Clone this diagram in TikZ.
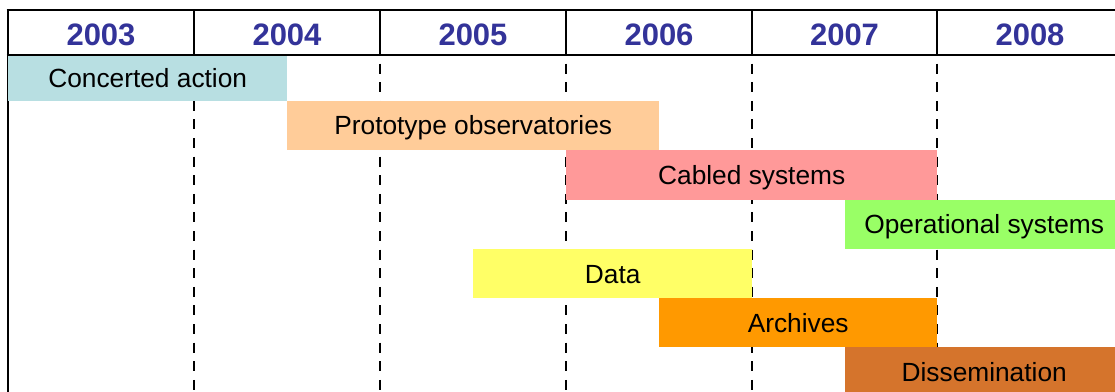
\documentclass[tikz,border=0pt]{standalone}
\usepackage{fontspec}
\setmainfont{Liberation Sans}
\definecolor{yearblue}{HTML}{333399}
\definecolor{cconc}{HTML}{B8DFE2}
\definecolor{cproto}{HTML}{FFCC99}
\definecolor{ccabled}{HTML}{FF9999}
\definecolor{coper}{HTML}{99FF66}
\definecolor{cdata}{HTML}{FFFF66}
\definecolor{carch}{HTML}{FF9900}
\definecolor{cdiss}{HTML}{D5742C}
\begin{document}
\begin{tikzpicture}[x=1pt,y=-1pt,
  frameline/.style={line width=2.8pt,black},
  sepline/.style={line width=2.6pt,black},
  gridline/.style={line width=2.6pt,black,dash pattern=on 10pt off 8.6pt,dash phase=10pt},
  yearlabel/.style={font=\fontsize{31}{31}\selectfont\bfseries,text=yearblue,inner sep=0pt,text height=22pt,text depth=0pt},
  bar/.style={anchor=north west,inner sep=0pt,draw=none,font=\fontsize{26.3}{26.3}\selectfont,text height=18.8pt,text depth=0pt,align=center}
]
\useasboundingbox (0,0) rectangle (1115,391);
% grid lines
\foreach \x in {194,380,566,752,937}{
  \draw[sepline] (\x,10) -- (\x,55);
  \draw[gridline] (\x,55) -- (\x,395);
}
\draw[frameline] (8,10) -- (8,395);
\draw[frameline] (6.6,10) -- (1125,10);
\draw[frameline] (6.6,55) -- (1125,55);
% years
\node[yearlabel] (y2003) at (101,34) {2003};
\node[yearlabel] (y2004) at (287,34) {2004};
\node[yearlabel] (y2005) at (473,34) {2005};
\node[yearlabel] (y2006) at (659,34) {2006};
\node[yearlabel] (y2007) at (844.5,34) {2007};
\node[yearlabel] (y2008) at (1030,34) {2008};
% bars
\node[bar,fill=cconc,minimum width=279pt,minimum height=44.5pt] (conc) at (8,56) {Concerted action};
\node[bar,fill=cproto,minimum width=372pt,minimum height=49.5pt] (proto) at (287,100.5) {Prototype observatories};
\node[bar,fill=ccabled,minimum width=371pt,minimum height=49.5pt] (cabled) at (566,150) {Cabled systems};
\node[bar,fill=coper,minimum width=278pt,minimum height=49.5pt] (oper) at (845,199.5) {Operational systems};
\node[bar,fill=cdata,minimum width=279pt,minimum height=49pt] (data) at (473,249) {Data};
\node[bar,fill=carch,minimum width=278pt,minimum height=49pt] (arch) at (659,298) {Archives};
\node[bar,fill=cdiss,minimum width=278pt,minimum height=49pt] (diss) at (845,347) {Dissemination};
\end{tikzpicture}
\end{document}
